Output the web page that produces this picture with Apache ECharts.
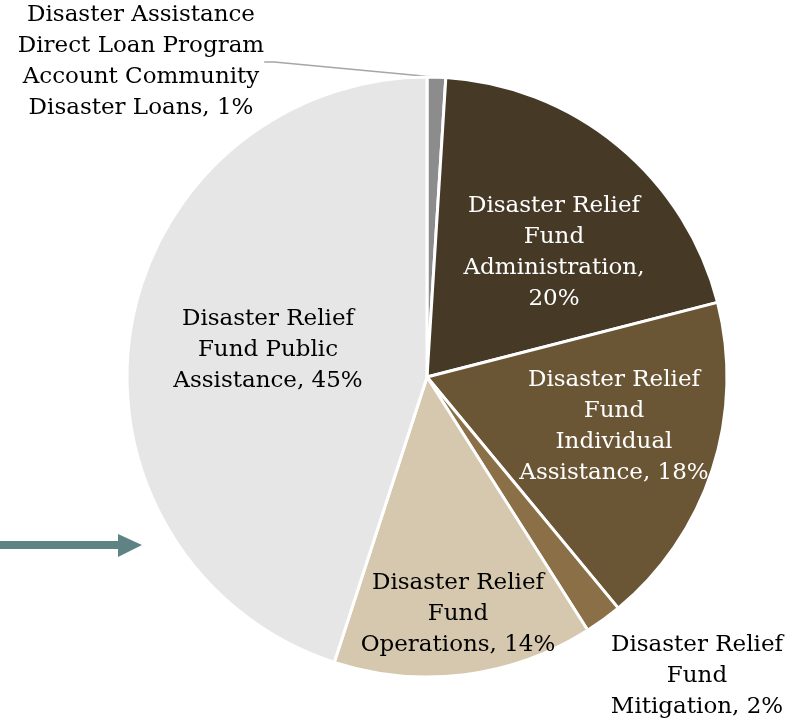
<!DOCTYPE html>
<html>
<head>
<meta charset="utf-8">
<script src="https://cdn.jsdelivr.net/npm/echarts@6/dist/echarts.min.js"></script>
<style>
  html, body { margin: 0; padding: 0; background: #ffffff; }
  #chart { width: 806px; height: 724px; }
</style>
</head>
<body>
<div id="chart"></div>
<script>
// Budget shares, clockwise from 12 o'clock
const categories = [
  'Disaster Assistance\nDirect Loan Program\nAccount Community\nDisaster Loans,',
  'Disaster Relief\nFund\nAdministration,\n',
  'Disaster Relief\nFund\nIndividual\nAssistance,',
  'Disaster Relief\nFund\nMitigation,',
  'Disaster Relief\nFund\nOperations,',
  'Disaster Relief\nFund Public\nAssistance,'
];
const shares = [1, 20, 18, 2, 14, 45];

const sliceColors = ['#8c8c8c', '#463a27', '#6a5535', '#8b7047', '#d5c8ae', '#e6e6e6'];
const labelColors = ['#000', '#fff', '#fff', '#000', '#000', '#000'];
// label block centres in px
const labelCentres = [[141, 62], [554, 253], [614, 427], [697, 676], [458, 614], [268, 350]];

const chart = echarts.init(document.getElementById('chart'), null, { renderer: 'canvas' });

const data = categories.map((name, i) => ({
  name: name,
  value: shares[i],
  itemStyle: { color: sliceColors[i] },
  label: {
    color: labelColors[i],
    position: (i === 0 || i === 3) ? 'outside' : 'inside'
  },
  labelLine: { show: i === 0 }
}));

chart.setOption({
  backgroundColor: '#ffffff',
  animation: false,
  graphic: [
    { type: 'rect', shape: { x: 0, y: 541, width: 120, height: 8 }, style: { fill: '#5f8385' } },
    { type: 'polygon', shape: { points: [[118, 534], [142, 545], [118, 557]] }, style: { fill: '#5f8385' } }
  ],
  series: [{
    type: 'pie',
    center: [427, 377],
    radius: [0, 300],
    startAngle: 90,
    clockwise: true,
    avoidLabelOverlap: false,
    itemStyle: { borderColor: '#ffffff', borderWidth: 3 },
    label: {
      show: true,
      fontFamily: 'DejaVu Serif',
      fontSize: 23,
      lineHeight: 31,
      align: 'center',
      formatter: p => p.name + (p.name.endsWith('\n') ? '' : ' ') + p.value + '%'
    },
    labelLine: {
      length: 10,
      length2: 10,
      lineStyle: { color: '#a6a6a6', width: 1.5 }
    },
    labelLayout: function (params) {
      const c = labelCentres[params.dataIndex];
      return { x: c[0], y: c[1], align: 'center', verticalAlign: 'middle' };
    },
    data: data
  }]
});
</script>
</body>
</html>
